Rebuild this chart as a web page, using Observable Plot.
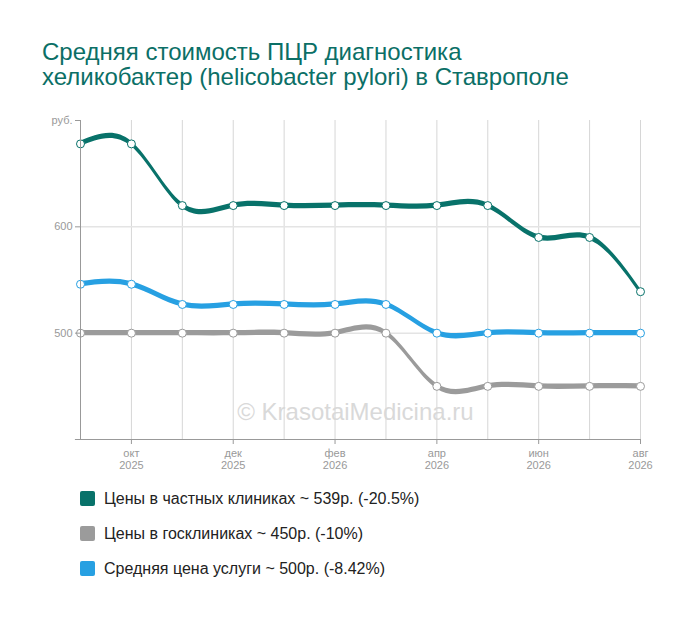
<!DOCTYPE html>
<html><head><meta charset="utf-8">
<script src="https://cdn.jsdelivr.net/npm/d3@7"></script>
<script src="https://cdn.jsdelivr.net/npm/@observablehq/plot@0.6"></script>
<style>
body{margin:0;background:#fff;font-family:"Liberation Sans",Arial,sans-serif;width:700px;height:617px;overflow:hidden;position:relative}
#title{position:absolute;left:42px;top:39px;font-size:24px;line-height:25px;color:#0b6f66}
#chart{position:absolute;left:0;top:100px}
#legend{position:absolute;left:80px;top:481px}
.li{display:flex;align-items:center;height:35px;font-size:16px;color:#222}
.sw{width:15px;height:15px;border-radius:2px;margin-right:9px}
</style></head><body>
<div id="title">Средняя стоимость ПЦР диагностика<br>хеликобактер (helicobacter pylori) в Ставрополе</div>
<div id="chart"></div>
<div id="legend"></div>
<script>
const months = ["сен\n2025","окт\n2025","ноя\n2025","дек\n2025","янв\n2026","фев\n2026","мар\n2026","апр\n2026","май\n2026","июн\n2026","июл\n2026","авг\n2026"];
const privatePrices = [678,678,620,620,620,620,620,620,620,590,590,539];
const govPrices     = [500,500,500,500,500,500,500,450,450,450,450,450];
const avgPrices     = [546,546,527,527,527,527,527,500,500,500,500,500];
const seriesNames = ["Цены в частных клиниках ~ 539р. (-20.5%)","Цены в госклиниках ~ 450р. (-10%)","Средняя цена услуги ~ 500р. (-8.42%)"];
const colors = ["#08726a","#9b9b9b","#27a0e2"];
const yTicks = [400,500,600,700];

const rows = [privatePrices, govPrices, avgPrices].flatMap((arr, s) => arr.map((v, i) => ({i, v, s})));
const idx = months.map((_, i) => i);
const order = [1,0,2];
const half = 2.5;

const marks = [
  Plot.ruleX(idx, {x: d => d, y1: 400, y2: 700, stroke: "#d6d6d6", strokeWidth: 1}),
  Plot.ruleY([500,600], {x1: 0, x2: 11, stroke: "#e4e4e4", strokeWidth: 1.5}),
  Plot.text(["© KrasotaiMedicina.ru"], {x: 5.4, y: 418, text: d => d, fontSize: 24, fill: "#d9d9d9", lineAnchor: "bottom", fontFamily: "Liberation Sans, Arial, sans-serif"}),
];
for (const s of order) {
  const data = rows.filter(d => d.s === s);
  marks.push(Plot.areaY(data, {x: "i", y1: d => d.v - half, y2: d => d.v + half, fill: colors[s], curve: "natural"}));
}
for (const s of order) {
  const data = rows.filter(d => d.s === s);
  marks.push(Plot.dot(data, {x: "i", y: "v", r: 4, fill: "#fff", stroke: colors[s], strokeWidth: 1}));
}
marks.push(
  Plot.axisY(yTicks, {label: null, tickSize: 5, tickPadding: 3, stroke: "#999", fill: "#999", fontSize: 11, tickFormat: d => d === 700 ? "руб." : d === 400 ? "" : d}),
  Plot.ruleX([0], {y1: 400, y2: 700, stroke: "#999"}),
  Plot.axisX([1,3,5,7,9,11], {label: null, tickSize: 5, tickPadding: 4, stroke: "#999", fill: "#999", fontSize: 11, tickFormat: d => months[d], lineHeight: 1.1}),
  Plot.ruleY([400], {x1: -0.1, x2: 11, stroke: "#999"})
);

const plot = Plot.plot({
  width: 700, height: 380,
  marginLeft: 80, marginRight: 60, marginTop: 20, marginBottom: 41,
  x: {domain: [0, 11], label: null},
  y: {domain: [400, 700], label: null},
  style: {fontFamily: "Liberation Sans, Arial, sans-serif", background: "#fff", overflow: "visible"},
  marks
});
document.getElementById("chart").appendChild(plot);

const lg = document.getElementById("legend");
seriesNames.forEach((n, k) => {
  const r = document.createElement("div"); r.className = "li";
  const sw = document.createElement("span"); sw.className = "sw"; sw.style.background = colors[k];
  const t = document.createElement("span"); t.textContent = n;
  r.appendChild(sw); r.appendChild(t); lg.appendChild(r);
});
</script></body></html>
